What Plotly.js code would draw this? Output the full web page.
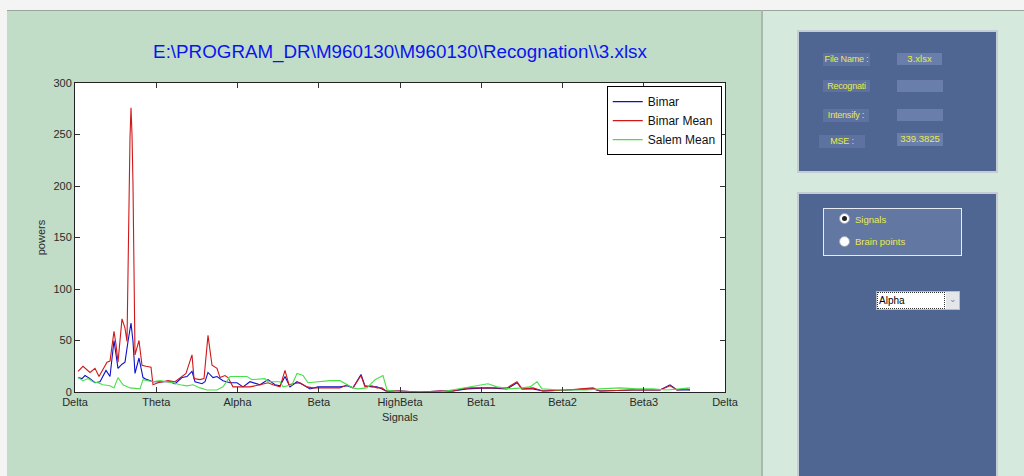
<!DOCTYPE html>
<html>
<head>
<meta charset="utf-8">
<script src="https://cdn.plot.ly/plotly-3.0.1.min.js"></script>
<style>
  html, body { margin:0; padding:0; width:1024px; height:476px; overflow:hidden; background:#f4f4f4; font-family:"Liberation Sans", Arial, sans-serif; }
  .abs { position:absolute; box-sizing:border-box; }
  #leftbg { left:7px; top:10px; width:754px; height:466px; background:#c1dcc7; border-top:1px solid #9aa59c; }
  #rightbg { left:761px; top:10px; width:263px; height:466px; background:#d6e9dd; border-top:1px solid #9aa59c; border-left:2px solid #a9b8ad; }
  .panel { background:#4f6592; border:2px solid #c5ccd6; }
  .lbl { background:#5d72a0; color:#e8ec4a; font-size:9px; line-height:12px; text-align:center; white-space:nowrap; overflow:visible; letter-spacing:-0.2px; }
  .val { background:#6a7eab; color:#e8ec4a; font-size:9.5px; line-height:12px; text-align:center; }
  #chart { left:0; top:0; width:1024px; height:476px; }
  .radio { width:11px; height:11px; border-radius:50%; background:#fff; border:1px solid #9aa4b4; }
  .dot { width:5px; height:5px; border-radius:50%; background:#222; left:2px; top:2px; }
  .rtxt { color:#e8ec4a; font-size:9.5px; line-height:12px; white-space:nowrap; }
</style>
</head>
<body>
<div id="leftbg" class="abs"></div>
<div id="rightbg" class="abs"></div>

<div class="abs panel" style="left:797px;top:30px;width:201px;height:143px;"></div>
<div class="abs lbl" style="left:823px;top:53px;width:47px;height:13px;">File Name :</div>
<div class="abs val" style="left:897px;top:53px;width:45px;height:12px;">3.xlsx</div>
<div class="abs lbl" style="left:823px;top:80px;width:47px;height:12px;">Recognati</div>
<div class="abs val" style="left:897px;top:80px;width:46px;height:12px;"></div>
<div class="abs lbl" style="left:823px;top:109px;width:46px;height:13px;">Intensify :</div>
<div class="abs val" style="left:897px;top:109px;width:46px;height:12px;"></div>
<div class="abs lbl" style="left:819px;top:135px;width:46px;height:13px;">MSE :</div>
<div class="abs val" style="left:897px;top:133px;width:46px;height:13px;">339.3825</div>

<div class="abs panel" style="left:797px;top:192px;width:201px;height:290px;"></div>
<div class="abs" style="left:823px;top:208px;width:139px;height:48px;background:#6277a2;border:1px solid #e8ecf2;"></div>
<div class="abs radio" style="left:839px;top:213px;"><div class="abs dot"></div></div>
<div class="abs rtxt" style="left:855px;top:214px;">Signals</div>
<div class="abs radio" style="left:839px;top:236px;"></div>
<div class="abs rtxt" style="left:855px;top:236px;">Brain points</div>
<div class="abs" style="left:876px;top:291px;width:84px;height:19px;background:#fff;border:1px solid #b8bcc4;"></div>
<div class="abs" style="left:877px;top:292px;width:68px;height:17px;border:1px dotted #333;font-size:10px;line-height:15px;color:#000;padding-left:1px;">Alpha</div>
<div class="abs" style="left:946px;top:292px;width:13px;height:17px;background:#e4e6ea;color:#888;font-size:9px;line-height:15px;text-align:center;">&#8964;</div>

<div id="chart" class="abs"></div>

<script>
// x positions (sample axis, 81.25 units per band) and values
var bandLabels = ["Delta","Theta","Alpha","Beta","HighBeta","Beta1","Beta2","Beta3","Delta"];
var bandTicks = [0, 81.25, 162.5, 243.75, 325, 406.25, 487.5, 568.75, 650];

var bimarMeanX = [3,8,15,20,24,32,35,39,41,43,47,50,52,53,55,56,57,58,59,60,64,67,71,76,78,83,88,93,100,107,111,117,119,125,129,133,137,142,145,150,153,158,165,175,185,193,198,205,210,214,218,225,232,238,245,255,265,272,278,286,290,297,302,307,311,325,345,365,378,392,412,432,442,447,458,468,492,518,525,558,585,595,602,612,615];
var bimarMeanY = [20,25,19,23,15,29,30,59,46,29,71,62,49,133,247,276,250,201,107,36,50,26,25,24,7,9,10,11,10,15,18,36,13,12,13,55,26,23,14,16,14,5,5,5,7,9,7,5,21,7,8,9,5,4,4,4,4,7,4,16,5,6,4,4,1,1,0,1,1,4,4,4,10,3,4,1,2,4,1,2,2,6,2,3,2];

var bimarX = [3,7,10,15,20,25,31,35,39,43,47,50,53,56,58,60,64,68,72,78,88,95,100,107,112,117,120,127,130,133,138,142,148,155,162,168,175,185,193,200,205,210,215,222,228,235,243,255,265,272,278,286,290,297,302,307,311,325,345,365,378,392,412,432,442,447,458,468,492,518,525,558,585,595,602,612,615];
var bimarY = [14,13,16,13,9,10,21,15,50,23,27,29,49,67,49,18,33,14,12,10,10,10,8,14,15,20,10,8,10,19,14,15,11,9,9,5,10,7,12,7,6,15,5,10,7,3,5,5,5,6,4,17,6,5,5,3,1,1,0,1,1,3,4,3,9,3,3,1,2,3,1,2,2,7,2,2,2];

var salemMeanX = [3,8,13,18,23,28,35,39,43,48,55,62,65,68,72,78,85,92,98,105,112,118,125,132,142,148,155,162,172,177,185,190,193,205,208,217,222,228,233,245,255,265,272,278,283,292,300,308,312,325,365,378,388,398,413,422,435,447,455,462,467,485,498,512,525,545,562,578,592,602,608,615];
var salemMeanY = [14,11,13,10,9,7,6,4,14,7,4,3,3,12,11,10,11,10,9,7,6,7,4,2,2,5,15,15,15,12,13,13,10,10,5,7,18,16,9,10,11,11,7,4,3,4,12,16,2,0,0,2,4,5,8,5,3,4,5,10,3,2,2,2,3,4,3,3,2,3,4,4];

var seriesNames = ["Bimar","Bimar Mean","Salem Mean"];
var seriesColors = ["#1010c8","#d01818","#48e048"];

var traces = [
  {x: bimarX, y: bimarY, name: seriesNames[0]},
  {x: bimarMeanX, y: bimarMeanY, name: seriesNames[1]},
  {x: salemMeanX, y: salemMeanY, name: seriesNames[2]}
].map(function(t, i){
  t.type = "scatter"; t.mode = "lines";
  t.line = {color: seriesColors[i], width: 1.1};
  return t;
});
var tickFont = {family: "Liberation Sans, Arial, sans-serif", size: 11, color: "#2a2a2a"};

var layout = {
  width: 1024, height: 476,
  margin: {l: 75, r: 299, t: 83, b: 84, pad: 0},
  paper_bgcolor: "rgba(0,0,0,0)",
  plot_bgcolor: "#ffffff",
  showlegend: true,
  title: {
    text: "E:\\PROGRAM_DR\\M960130\\M960130\\Recognation\\\\3.xlsx",
    font: {family: "Liberation Sans, Arial, sans-serif", size: 18.8, color: "#0a14f0"},
    xref: "paper", x: 0.5, xanchor: "center",
    yref: "container", y: 0.893, yanchor: "middle"
  },
  xaxis: {
    range: [0, 650], tickmode: "array", tickvals: bandTicks, ticktext: bandLabels,
    ticks: "inside", ticklen: 5, tickcolor: "#333", tickwidth: 1,
    showline: true, linecolor: "#222", linewidth: 1, mirror: "ticks",
    showgrid: false, zeroline: false, tickfont: tickFont, fixedrange: true,
    title: {text: "Signals", font: tickFont, standoff: 6}
  },
  yaxis: {
    range: [0, 300], tickmode: "array", tickvals: [0,50,100,150,200,250,300],
    ticks: "inside", ticklen: 5, tickcolor: "#333", tickwidth: 1,
    showline: true, linecolor: "#222", linewidth: 1, mirror: "ticks",
    showgrid: false, zeroline: false, tickfont: tickFont, fixedrange: true,
    title: {text: "powers", font: tickFont, standoff: 5}
  },
  legend: {
    x: 0.995, xanchor: "right", y: 0.99, yanchor: "top",
    bgcolor: "#ffffff", bordercolor: "#000", borderwidth: 1,
    font: {family: "Liberation Sans, Arial, sans-serif", size: 12, color: "#111"},
    tracegroupgap: 0, itemwidth: 30
  }
};
Plotly.newPlot("chart", traces, layout, {staticPlot: true, displayModeBar: false});
</script>
</body>
</html>
